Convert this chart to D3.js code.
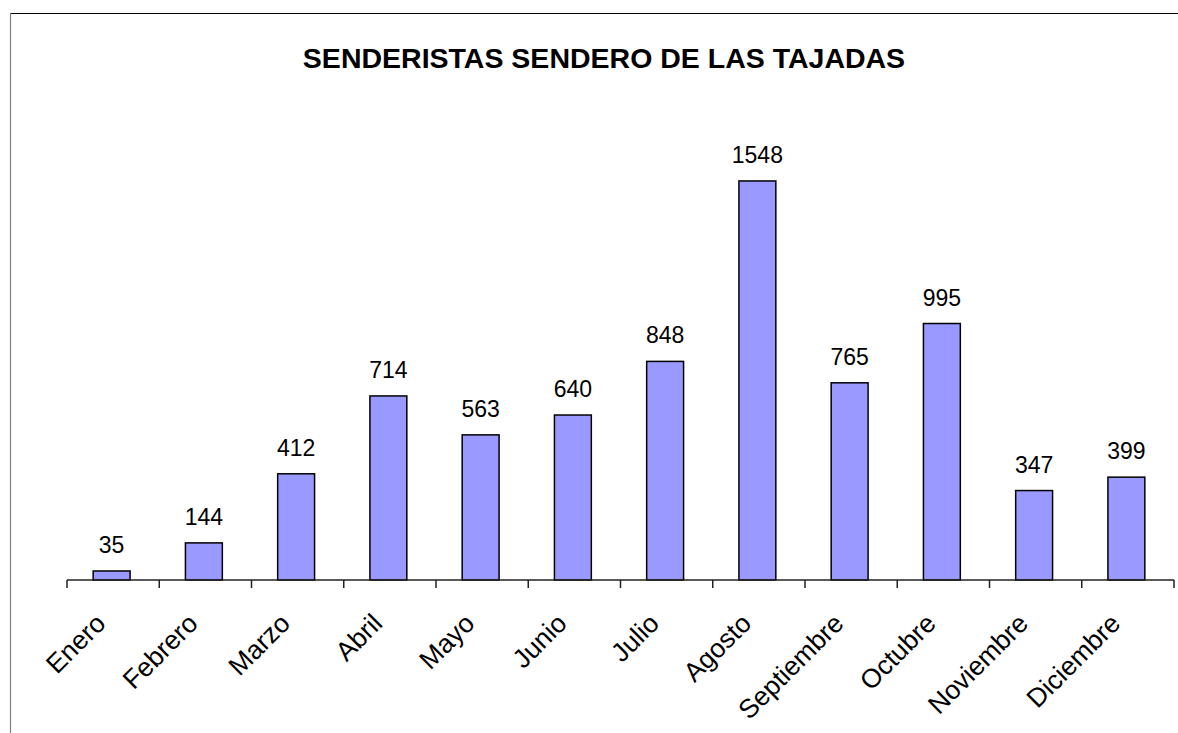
<!DOCTYPE html>
<html>
<head>
<meta charset="utf-8">
<script src="https://cdn.jsdelivr.net/npm/d3@7"></script>
<style>
  html, body { margin: 0; padding: 0; background: #fff; }
  text { font-family: "Liberation Sans", Arial, sans-serif; }
</style>
</head>
<body>
<div id="chart"></div>
<script>
// Chart data
const months = ["Enero", "Febrero", "Marzo", "Abril", "Mayo", "Junio", "Julio",
  "Agosto", "Septiembre", "Octubre", "Noviembre", "Diciembre"];
const hikers = [35, 144, 412, 714, 563, 640, 848, 1548, 765, 995, 347, 399];
const chartTitle = "SENDERISTAS SENDERO DE LAS TAJADAS";

const width = 1178;
const height = 733;

// Create svg "canvas" to draw on
const svg = d3.select("#chart").append("svg")
  .attr("width", width)
  .attr("height", height)

// Frame lines (top and left edge)
svg.append("line")
  .attr("x1", 10).attr("x2", width)
  .attr("y1", 13.5).attr("y2", 13.5)
  .attr("stroke", "#000").attr("stroke-width", 1.2)
svg.append("line")
  .attr("x1", 10.5).attr("x2", 10.5)
  .attr("y1", 13).attr("y2", height)
  .attr("stroke", "#808080").attr("stroke-width", 1.2)

// Title
svg.append("text")
  .attr("x", 604)
  .attr("y", 68)
  .attr("text-anchor", "middle")
  .style("font-size", "28.5px")
  .style("font-weight", "bold")
  .text(chartTitle)

// Scales
const x = d3.scaleBand()
  .domain(months)
  .range([67, 1174])
  .paddingInner(0.6)
  .paddingOuter(0.3)

const y = d3.scaleLinear()
  .domain([0, 1800])
  .range([580, 116])

// Bars
const bar = svg.selectAll("g.bar")
  .data(months.map((m, i) => ({ month: m, value: hikers[i] })))
  .enter()
  .append("g")
  .attr("class", "bar")
  .attr("transform", "translate(-1.5,0)")

bar.append("rect")
  .attr("x", d => x(d.month))
  .attr("y", d => y(d.value))
  .attr("width", x.bandwidth())
  .attr("height", d => y(0) - y(d.value))
  .attr("fill", "#9999ff")
  .attr("stroke", "#000")
  .attr("stroke-width", 1.5)

// Value labels above bars
bar.append("text")
  .attr("x", d => x(d.month) + x.bandwidth() / 2)
  .attr("y", d => y(d.value) - 18)
  .attr("text-anchor", "middle")
  .style("font-size", "23px")
  .style("fill", "#000")
  .text(d => d.value)

// X axis: ticks between categories
const axis = svg.append("g")
  .attr("transform", `translate(0,${y(0)})`)

axis.append("line")
  .attr("x1", 67).attr("x2", 1174)
  .attr("stroke", "#222").attr("stroke-width", 1.5)

const tickPos = d3.range(months.length + 1).map(i => 67 + i * (1174 - 67) / months.length);
axis.selectAll("line.tick")
  .data(tickPos)
  .enter()
  .append("line")
  .attr("class", "tick")
  .attr("x1", d => d).attr("x2", d => d)
  .attr("y1", 0).attr("y2", 8)
  .attr("stroke", "#222").attr("stroke-width", 1.5)

// Rotated month labels
axis.selectAll("text.month")
  .data(months)
  .enter()
  .append("text")
  .attr("class", "month")
  .attr("text-anchor", "end")
  .attr("transform", d => `translate(${x(d) + x.bandwidth() / 2 - 6},45) rotate(-45)`)
  .style("font-size", "26.5px")
  .text(d => d)
</script>
</body>
</html>
